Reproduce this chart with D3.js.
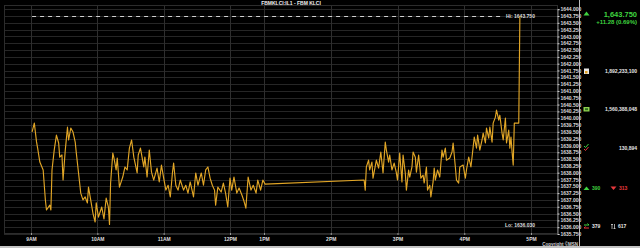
<!DOCTYPE html>
<html>
<head>
<meta charset="utf-8">
<script src="https://cdn.jsdelivr.net/npm/d3@7"></script>
<style>
	body { margin: 0; background: #000; overflow: hidden; }
	svg text { font-family: "Liberation Sans", Arial, sans-serif; font-weight: bold; }
</style>
</head>
<body>
<div id="chart"></div>
<script>
// intraday prices
let times = ["9:01", "9:03", "9:05", "9:06", "9:08", "9:11", "9:13", "9:14", "9:17", "9:18", "9:19", "9:21", "9:23", "9:25", "9:26", "9:28", "9:29", "9:31", "9:33", "9:34", "9:36", "9:38", "9:40", "9:41", "9:43", "9:45", "9:47", "9:49", "9:51", "9:52", "9:54", "9:56", "9:58", "9:59",
	"10:01", "10:04", "10:06", "10:08", "10:10", "10:11", "10:12", "10:14", "10:15", "10:17", "10:18", "10:20", "10:23", "10:25", "10:27", "10:29", "10:31", "10:33", "10:36", "10:37", "10:39", "10:42", "10:43", "10:45", "10:47", "10:49", "10:51", "10:54", "10:56", "10:58",
	"11:00", "11:02", "11:04", "11:06", "11:08", "11:09", "11:11", "11:13", "11:15", "11:18", "11:20", "11:22", "11:24", "11:27", "11:29", "11:31", "11:34", "11:36", "11:38", "11:40", "11:42", "11:44", "11:46", "11:47", "11:49", "11:52", "11:54", "11:56", "11:58",
	"12:00", "12:03", "12:07", "12:12", "12:16", "12:21", "12:24", "12:28", "12:32", "12:37", "12:41", "12:46", "12:49", "12:54", "12:58", "13:01",
	"14:30", "14:31", "14:32", "14:34", "14:35", "14:37", "14:38", "14:41", "14:43", "14:45", "14:47", "14:49", "14:50", "14:52", "14:53", "14:55", "14:57", "14:59",
	"15:00", "15:02", "15:04", "15:05", "15:07", "15:08", "15:10", "15:11", "15:13", "15:14", "15:16", "15:17", "15:19", "15:21", "15:23", "15:24", "15:26", "15:27", "15:29", "15:30", "15:32", "15:33", "15:34", "15:36", "15:38", "15:40", "15:41", "15:43", "15:44", "15:47", "15:49", "15:50", "15:52", "15:53", "15:55", "15:56", "15:59",
	"16:01", "16:02", "16:04", "16:06", "16:08", "16:09", "16:11", "16:12", "16:14", "16:16", "16:17", "16:19", "16:20", "16:22", "16:23", "16:25", "16:26", "16:28", "16:29", "16:31", "16:32", "16:34", "16:35", "16:37", "16:38", "16:40", "16:41", "16:42", "16:43", "16:44", "16:45", "16:49", "16:50"];

let prices = [1639.50, 1639.82, 1639.13, 1638.90, 1638.39, 1638.10, 1637.00, 1636.63, 1636.81, 1636.63, 1638.10, 1638.83, 1639.38, 1639.09, 1638.57, 1638.65, 1637.73, 1638.83, 1639.67, 1639.20, 1639.64, 1639.49, 1639.12, 1638.72, 1637.99, 1637.25, 1637.00, 1637.11, 1636.89, 1637.47, 1637.00, 1636.52, 1636.19, 1636.89,
	1636.37, 1636.74, 1636.30, 1637.07, 1636.74, 1636.10, 1637.62, 1638.72, 1638.54, 1638.10, 1638.54, 1637.47, 1637.84, 1638.21, 1638.10, 1638.90, 1639.20, 1638.57, 1637.99, 1638.65, 1638.90, 1638.21, 1638.57, 1637.84, 1638.83, 1638.02, 1637.73, 1638.17, 1637.66, 1638.28,
	1637.80, 1637.36, 1637.54, 1637.11, 1638.02, 1638.35, 1637.54, 1637.36, 1637.73, 1637.36, 1637.54, 1637.25, 1637.66, 1637.11, 1637.99, 1637.54, 1637.99, 1637.54, 1638.10, 1638.21, 1637.80, 1637.54, 1637.36, 1636.81, 1637.47, 1637.29, 1637.62, 1637.25, 1636.74,
	1637.80, 1637.36, 1637.84, 1637.25, 1637.44, 1637.18, 1637.00, 1636.70, 1637.84, 1637.36, 1637.54, 1637.25, 1637.73, 1637.36, 1637.73, 1637.58,
	1637.73, 1637.36, 1638.21, 1638.46, 1638.10, 1638.39, 1637.80, 1638.46, 1638.17, 1638.76, 1637.99, 1639.12, 1638.83, 1638.39, 1638.65, 1638.10, 1638.35, 1637.99,
	1637.73, 1638.72, 1637.66, 1638.65, 1637.99, 1637.36, 1638.10, 1637.84, 1638.21, 1638.76, 1638.57, 1638.02, 1638.65, 1637.80, 1637.91, 1637.62, 1638.21, 1637.36, 1637.54, 1637.11, 1637.66, 1638.17, 1637.73, 1638.10, 1637.84, 1638.83, 1638.57, 1638.90, 1638.46, 1638.54, 1638.76, 1639.09, 1638.21, 1637.73, 1637.62, 1638.21, 1638.28,
	1637.80, 1638.10, 1638.57, 1638.21, 1638.94, 1639.31, 1638.90, 1639.38, 1638.83, 1639.20, 1639.45, 1639.09, 1639.64, 1639.27, 1639.67, 1639.12, 1639.82, 1640.04, 1640.30, 1639.93, 1640.11, 1639.45, 1639.20, 1640.00, 1639.09, 1639.56, 1638.90, 1639.31, 1638.76, 1638.28, 1639.82, 1639.82, 1643.75];

let hourTicks = [9, 10, 11, 12, 13, 14, 15, 16, 17];
let hourLabels = ["9AM", "10AM", "11AM", "12PM", "1PM", "2PM", "3PM", "4PM", "5PM"];
let priceTicks = d3.range(0, 34).map(function(i) { return 1635.75 + i * 0.25; });

let title = "FBMKLCI:IL1 - FBM KLCI";
let hiText = "Hi: 1643.750", hiValue = 1643.75;
let loText = "Lo: 1636.030";
let lastPrice = "1,643.750", change = "+11.28 (0.69%)";
let turnover = "1,892,233,100", volume = "1,560,388,048", trades = "130,894";
let advances = "390", declines = "313", unchanged = "379", total = "617";

let width = 640, height = 248;
let plot = { left: 4, top: 5, right: 557, bottom: 233 };

let svg = d3.select('#chart').append('svg')
	.attr('width', width)
	.attr('height', height);

svg.append('rect').attr('width', width).attr('height', height).attr('fill', '#000');

function toMin(s) {
	let p = s.split(':');
	return +p[0] * 60 + +p[1];
}

let data = times.map(function(t, i) { return { t: toMin(t), v: prices[i] }; });

// lunch hour is squeezed on this axis, so piecewise
let x = d3.scaleLinear()
	.domain([540, 720, 780, 1020])
	.range([31, 230, 264, 531]);

let y = d3.scaleLinear()
	.domain([1635.75, 1644])
	.range([234, 9.2]);

// grid
svg.append('g').selectAll('line')
	.data(priceTicks)
	.enter().append('line')
	.attr('x1', plot.left).attr('x2', plot.right)
	.attr('y1', function(d) { return Math.round(y(d)) + 0.5; })
	.attr('y2', function(d) { return Math.round(y(d)) + 0.5; })
	.attr('stroke', '#262626');

svg.append('g').selectAll('line')
	.data(hourTicks)
	.enter().append('line')
	.attr('x1', function(d) { return Math.round(x(d * 60)) + 0.5; })
	.attr('x2', function(d) { return Math.round(x(d * 60)) + 0.5; })
	.attr('y1', plot.top).attr('y2', plot.bottom)
	.attr('stroke', '#2e2e2e');

svg.append('rect')
	.attr('x', plot.left + 0.5).attr('y', plot.top + 0.5)
	.attr('width', plot.right - plot.left).attr('height', plot.bottom - plot.top)
	.attr('fill', 'none').attr('stroke', '#2c2c2c');

// y axis on the right
let yAxis = svg.append('g')
	.attr('transform', 'translate(' + (plot.right + 0.5) + ',0)')
	.call(d3.axisRight(y).tickValues(priceTicks).tickFormat(d3.format('.3f')).tickSize(2).tickPadding(1));
yAxis.select('.domain').attr('stroke', '#8a8a8a');
yAxis.selectAll('.tick line').attr('stroke', '#cfcfcf');
yAxis.selectAll('text').attr('fill', '#dcdcdc').style('font-size', '5px');

// x axis
let xAxis = svg.append('g')
	.attr('transform', 'translate(0,' + plot.bottom + ')')
	.call(d3.axisBottom(x).tickValues(hourTicks.map(function(h) { return h * 60; }))
		.tickFormat(function(d, i) { return hourLabels[i]; }).tickSize(2).tickPadding(2));
xAxis.select('.domain').remove();
xAxis.selectAll('.tick line').attr('stroke', '#9a9a9a');
xAxis.selectAll('text').attr('fill', '#dcdcdc').style('font-size', '5px');

// hi line + labels
svg.append('line')
	.attr('x1', x(data[0].t)).attr('x2', 504)
	.attr('y1', Math.round(y(hiValue)) + 0.5).attr('y2', Math.round(y(hiValue)) + 0.5)
	.attr('stroke', '#d0d0d0').attr('stroke-dasharray', '4,4');

svg.append('text').attr('x', 506).attr('y', y(hiValue) + 1.8)
	.attr('fill', '#dcdcdc').style('font-size', '5px').text(hiText);
svg.append('text').attr('x', 505).attr('y', 226.8)
	.attr('fill', '#dcdcdc').style('font-size', '5px').text(loText);

// price line
let line = d3.line()
	.x(function(d) { return x(d.t); })
	.y(function(d) { return y(d.v); });

svg.append('path')
	.datum(data)
	.attr('d', line)
	.attr('fill', 'none')
	.attr('stroke', '#e2a626')
	.attr('stroke-width', 1.15)
	.attr('stroke-linejoin', 'round');

// title
svg.append('text').attr('x', 291).attr('y', 5.2).attr('text-anchor', 'middle')
	.attr('fill', '#f0f0f0').style('font-size', '5px').text(title);

// right panel
svg.append('line').attr('x1', 579.5).attr('x2', 579.5).attr('y1', 0).attr('y2', 246)
	.attr('stroke', '#bdbdbd');
svg.append('rect').attr('x', 0).attr('y', 246).attr('width', width).attr('height', 2).attr('fill', '#c4c4c4');

svg.append('text').attr('x', 578).attr('y', 245.5).attr('text-anchor', 'end')
	.attr('fill', '#cfcfcf').style('font-size', '4.5px').text('Copyright \u00a9MSN');

let green = '#3fd23f', red = '#e8383d', white = '#e6e6e6';

svg.append('path').attr('d', 'M583.5,15.5 L586.5,11.5 L589.5,15.5 Z').attr('fill', green);
svg.append('text').attr('x', 637).attr('y', 16.5).attr('text-anchor', 'end')
	.attr('fill', green).style('font-size', '7.5px').text(lastPrice);
svg.append('text').attr('x', 637).attr('y', 24.2).attr('text-anchor', 'end')
	.attr('fill', green).style('font-size', '6px').text(change);

// turnover icon
svg.append('rect').attr('x', 584).attr('y', 68.5).attr('width', 5).attr('height', 5.5).attr('fill', '#e8e8e8');
svg.append('rect').attr('x', 585).attr('y', 71).attr('width', 2.5).attr('height', 2.5).attr('fill', '#e0a020');
svg.append('text').attr('x', 637).attr('y', 73).attr('text-anchor', 'end')
	.attr('fill', white).style('font-size', '5px').text(turnover);

// volume icon
svg.append('rect').attr('x', 583.5).attr('y', 107).attr('width', 6).attr('height', 4.5).attr('fill', '#8fd14f');
svg.append('rect').attr('x', 585).attr('y', 108.2).attr('width', 3).attr('height', 2).attr('fill', '#2f6f1f');
svg.append('text').attr('x', 637).attr('y', 111).attr('text-anchor', 'end')
	.attr('fill', white).style('font-size', '5px').text(volume);

// trades icon
svg.append('path').attr('d', 'M584,146 L585.5,147.5 L588.5,144').attr('fill', 'none').attr('stroke', green).attr('stroke-width', 1);
svg.append('path').attr('d', 'M584,149 L585.5,150.5 L588.5,147').attr('fill', 'none').attr('stroke', red).attr('stroke-width', 1);
svg.append('text').attr('x', 637).attr('y', 150).attr('text-anchor', 'end')
	.attr('fill', white).style('font-size', '5px').text(trades);

// advances / declines
svg.append('path').attr('d', 'M583.5,190 L586.5,186.5 L589.5,190 Z').attr('fill', green);
svg.append('text').attr('x', 592).attr('y', 190.2).attr('fill', green).style('font-size', '5px').text(advances);
svg.append('path').attr('d', 'M610.5,186.5 L613.5,190 L616.5,186.5 Z').attr('fill', red);
svg.append('text').attr('x', 619).attr('y', 190.2).attr('fill', red).style('font-size', '5px').text(declines);

// unchanged / total
svg.append('path').attr('d', 'M584,225 L589,225 M587.5,223.5 L589,225').attr('stroke', green).attr('fill', 'none');
svg.append('path').attr('d', 'M584,228 L589,228 M585.5,226.5 L584,228').attr('stroke', red).attr('fill', 'none');
svg.append('text').attr('x', 592).attr('y', 228.2).attr('fill', white).style('font-size', '5px').text(unchanged);
svg.append('path').attr('d', 'M612,224 L612,229 M611,225 L612,224 L613,225 M614.5,224 L614.5,229 M613.5,228 L614.5,229 L615.5,228')
	.attr('stroke', white).attr('fill', 'none').attr('stroke-width', 0.7);
svg.append('text').attr('x', 618).attr('y', 228.2).attr('fill', white).style('font-size', '5px').text(total);
</script>
</body>
</html>
